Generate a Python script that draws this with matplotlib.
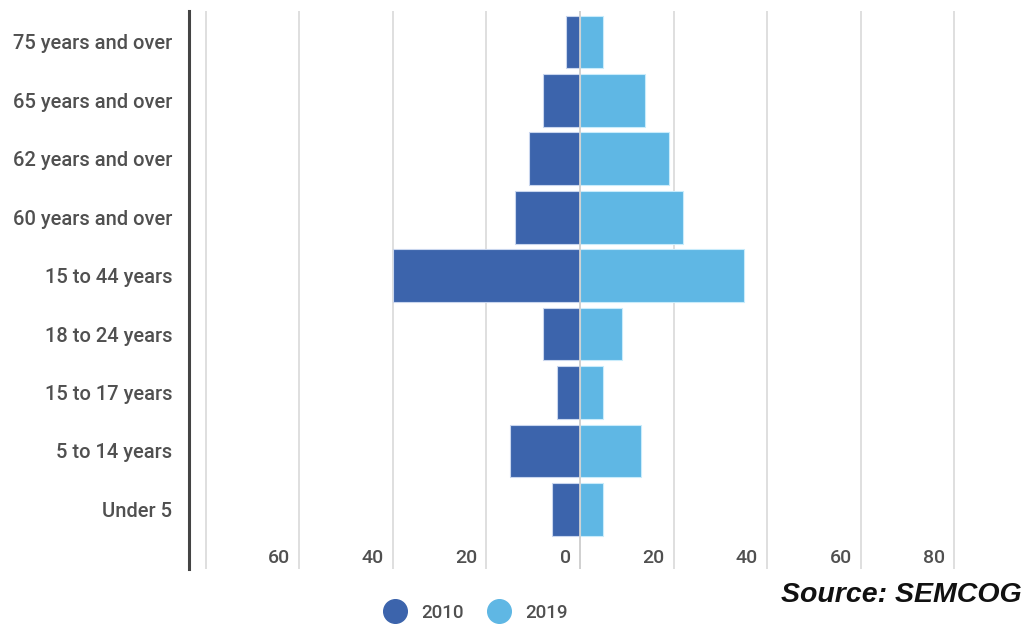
import numpy as np
import matplotlib.pyplot as plt
from matplotlib.lines import Line2D
from matplotlib.transforms import ScaledTranslation

plt.rcParams['font.family'] = ['Roboto', 'DejaVu Sans']

age_groups = ['Under 5', '5 to 14 years', '15 to 17 years', '18 to 24 years',
              '15 to 44 years', '60 years and over', '62 years and over',
              '65 years and over', '75 years and over']
pop_2010 = [6, 15, 5, 8, 40, 14, 11, 8, 3]
pop_2019 = [5, 13, 5, 9, 35, 22, 19, 14, 5]
grid_ticks = [-80, -60, -40, -20, 0, 20, 40, 60, 80]
label_ticks = [-60, -40, -20, 0, 20, 40, 60, 80]

c2010 = '#3c64ac'
c2019 = '#5fb7e4'
txt_gray = '#505050'

fig = plt.figure(figsize=(10.27, 6.25), dpi=100)
ax = fig.add_axes([0.184, 0.0896, 0.7615, 0.8934])

y = np.arange(len(age_groups))

# gridlines behind the bars
for g in grid_ticks:
    ax.axvline(g, color='#dcdcdc', lw=1.3, zorder=0)

ax.barh(y, -np.array(pop_2010), height=0.9, color=c2010,
        edgecolor='#c9d6ee', linewidth=0.8, zorder=2)
ax.barh(y, pop_2019, height=0.9, color=c2019,
        edgecolor='#c9ecfb', linewidth=0.8, zorder=2)
ax.axvline(0, color='#d0d0d0', lw=1.3, zorder=3)

ax.set_xlim(-83.6, 83.6)
ax.set_ylim(-1.02, 8.535)

ax.set_yticks(y)
ax.set_yticklabels(age_groups, fontsize=14.5, color=txt_gray,
                   fontweight='medium')
ax.tick_params(axis='y', length=0, pad=12)
ax.set_xticks([])

# x labels sit inside the plot, just left of their gridline
offset = ScaledTranslation(-9 / 100, 0, fig.dpi_scale_trans)
for t in label_ticks:
    ax.text(t, -0.84, str(abs(t)), ha='right', va='center', fontsize=14,
            fontweight='medium', color=txt_gray,
            transform=ax.transData + offset)

for s in ['top', 'right', 'bottom']:
    ax.spines[s].set_visible(False)
ax.spines['left'].set_color('#444444')
ax.spines['left'].set_linewidth(2.2)

handles = [Line2D([], [], marker='o', ls='none', ms=17, color=c2010),
           Line2D([], [], marker='o', ls='none', ms=17, color=c2019)]
fig.legend(handles, ['2010', '2019'], loc='center', ncol=2, frameon=False,
           bbox_to_anchor=(472 / 1027, 1 - 613 / 625),
           prop={'size': 13.5, 'weight': 'medium'},
           labelcolor=txt_gray, handletextpad=0.4, columnspacing=0.9)

fig.text(0.995, 1 - 595 / 625, 'Source: SEMCOG', ha='right', va='center',
         fontsize=20.5, fontweight='bold', fontstyle='italic',
         family='Liberation Sans', color='#111111')

plt.savefig('out.png', dpi=100)
